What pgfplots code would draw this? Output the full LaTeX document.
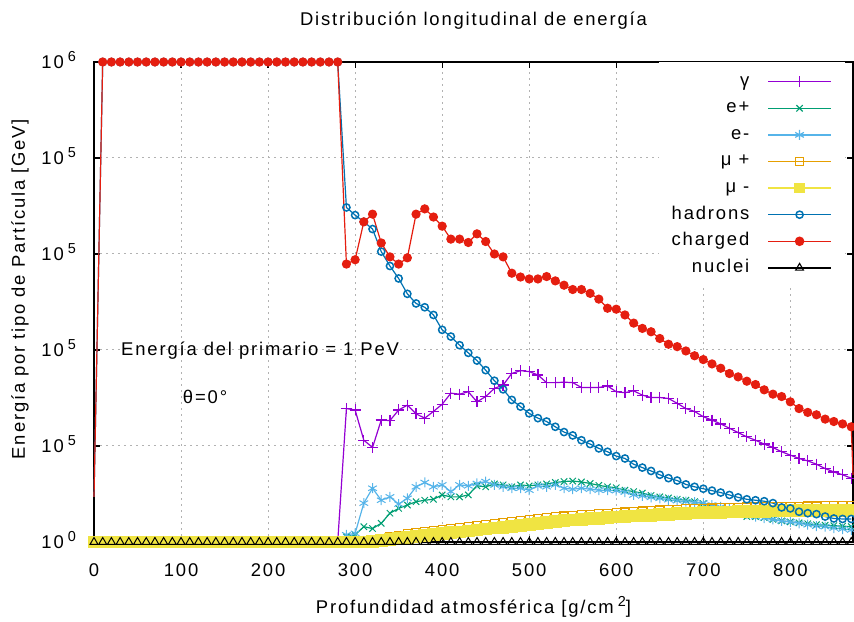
\documentclass[border=0pt]{standalone}
\usepackage{fontspec}
\setmainfont{Liberation Sans}[LetterSpace=10]
\usepackage{pgfplots}
\usepackage{pgfplotstable}
\pgfplotsset{compat=1.18}
\definecolor{cgam}{HTML}{9400D3}
\definecolor{cep}{HTML}{009E73}
\definecolor{cem}{HTML}{56B4E9}
\definecolor{cmup}{HTML}{E69F00}
\definecolor{cmum}{HTML}{F0E442}
\definecolor{chad}{HTML}{0072B2}
\definecolor{cchg}{HTML}{E51E10}
\newcommand{\fs}{\fontsize{18.5}{22}\selectfont}
\newcommand{\pw}[1]{10\hspace{4bp}\raisebox{7.5bp}{\fontsize{14.5}{16}\selectfont #1}}
% x gam ep em mup mum had chg nuc  (energies in units of 1000 GeV)
\pgfplotstableread{
x gam ep em mup mum had chg nuc
0 0 0 0 0 0 94 94 0
10 0 0 0 0 0 1000 1000 0
20 0 0 0 0 0 1000 1000 0
30 0 0 0 0 0 1000 1000 0
40 0 0 0 0 0 1000 1000 0
50 0 0 0 0 0 1000 1000 0
60 0 0 0 0 0 1000 1000 0
70 0 0 0 0 0 1000 1000 0
80 0 0 0 0 0 1000 1000 0
90 0 0 0 0 0 1000 1000 0
100 0 0 0 0 0 1000 1000 0
110 0 0 0 0 0 1000 1000 0
120 0 0 0 0 0 1000 1000 0
130 0 0 0 0 0 1000 1000 0
140 0 0 0 0 0 1000 1000 0
150 0 0 0 0 0 1000 1000 0
160 0 0 0 0 0 1000 1000 0
170 0 0 0 0 0 1000 1000 0
180 0 0 0 0 0 1000 1000 0
190 0 0 0 0 0 1000 1000 0
200 0 0 0 0 0 1000 1000 0
210 0 0 0 0 0 1000 1000 0
220 0 0 0 0 0 1000 1000 0
230 0 0 0 0 0 1000 1000 0
240 0 0 0 0 0 1000 1000 0
250 0 0 0 0 0 1000 1000 0
260 0 0 0 0 0 1000 1000 0
270 0 0 0 0 0 1000 1000 0
280 0 0 0 0 0 1000 1000 0
290 278 11 15 0 0 697 579 0
300 275 15 18 0 0 681 588 0
310 212 32 81 0 0 667 667 0
320 197 28 112 3 1 652 683 0
330 254 39 87 8 3 605 623 0
340 253 60 94 11 5 575 594 0
350 275 70 79 14 7 549 579 0
360 285 77 91 18 9 517 592 0
370 267 84 115 20.5 11 497 683 0
380 258 87 124 22.5 13 489 694 0
390 272 89 115 24.5 15 473 677 0
400 287 98 119 26.5 17 442 658 0
410 310 94 105 28.5 19 428 631 0
420 308 94 119 30.5 21 410 631 0
430 313 98 117 32.5 23 394 624 0
440 292 117 122 34.5 25 378 642 0
450 303 115 126 36.5 27 358 626 0
460 320 121 119 38.5 29 336 600 0
470 327 119 115 40.5 31 318 594 0
480 351 115 112 42.5 33 296 560 0
490 357 119 112 44.5 35 282 552 0
500 355 117 108 46.5 37 268 548 0
510 348 119 117 48.5 39 258 548 0
520 332 121 115 50.5 41 251 553 0
530 332 124 119 52.5 43 240 544 0
540 333 126 112 54 44.5 229 535 0
550 332 127 110 55.5 46 222 526 0
560 322 125 112 56.5 47 212 526 0
570 322 122 110 58 48.5 204 518 0
580 322 118 108 59 49.5 195 506 0
590 325 115 108 60 50.5 188 487 0
600 313 113 107 61.5 52 179 485 0
610 311 108 104 62.5 53 174 473 0
620 315 105 98 63.5 54 162 456 0
630 306 102 96 64.5 55 155 445 0
640 301 97 93 65.5 56 148 438 0
650 301 94 91 66.5 57 140 424 0
660 299 92 88 67.5 58 133 412 0
670 289 89 86 68.5 59 128 407 0
680 278 87 84 69.5 60 120 398 0
690 272 84 83 70 60.5 115 388 0
700 261 80 81 70.5 61 111 380 0
710 254 75 77 71 61.5 107 371 0
720 246 68 73 71.5 62 103 362 0
730 237 63 70 72 62.5 98 351 0
740 228 58 64 72.5 63 93 344 0
750 219 53 58 73 63.5 89 335 0
760 212 53 53 73.5 64 87 328 0
770 204 51 50 73.5 64 85 317 0
780 197 47 47 74 64.5 81 308 0
790 188 44 44 74 64.5 72 303 0
800 181 42 42 74.5 65 70 292 0
810 174 40 39 74.5 65 63 278 0
820 169 38 36 75 65.5 60 270 0
830 162 36 33 75 65.5 58 265 0
840 153 35 32 75.5 66 53 256 0
850 146 34 29 75.5 66 49 251 0
860 140 33 27 75.5 66 48 246 0
870 133 32 25 76 66.5 48 240 0
}\data
\begin{document}
\begin{tikzpicture}
\begin{axis}[
  scale only axis, width=759bp, height=480bp,
  xmin=0, xmax=872, ymin=0, ymax=1000,
  clip=false,
  axis line style={line width=1.2bp, black},
  tick align=inside, major tick length=6bp,
  tick style={line width=1.2bp, black},
  xtick={0,100,...,800}, xticklabels={0,100,200,300,400,500,600,700,800},
  ytick={0,200,400,600,800,1000},
  yticklabels={\pw{0},\pw{5},\pw{5},\pw{5},\pw{5},\pw{6}},
  scaled y ticks=false,
  xticklabel style={font=\fs, anchor=center, yshift=-28bp, inner sep=0pt},
  yticklabel style={font=\fs, anchor=base east, inner sep=0pt, xshift=-18bp, yshift=-6.7bp},
  grid=major,
  grid style={line width=1bp, gray!60, dash pattern=on 2bp off 4bp},
  title={Distribución longitudinal de energía},
  title style={font=\fs, at={(axis description cs:0.5,1)}, anchor=center, yshift=35bp},
  xlabel={Profundidad atmosférica [g/cm\hspace{4bp}\raisebox{7.5bp}{\fontsize{14.5}{16}\selectfont 2}]},
  xlabel style={font=\fs, at={(axis description cs:0.5,0)}, anchor=center, yshift=-65bp},
  ylabel={Energía por tipo de Partícula [GeV]},
  ylabel style={font=\fs, at={(axis description cs:0,0.527)}, anchor=center, yshift=74bp},
  legend style={draw=none, fill=white, at={(0.9895,1)}, anchor=north east,
    inner xsep=13bp, inner ysep=11bp, row sep=9.6bp, column sep=18bp,
    font=\fs, nodes={inner sep=0pt, text height=13bp, text depth=4bp}},
  legend cell align=right, legend plot pos=right,
  legend image code/.code={\draw[#1] (0bp,0bp) -- (63bp,0bp); \draw[#1, only marks] plot coordinates {(31.5bp,0bp)};},
]
\addlegendimage{draw=cgam, line width=1.5bp, mark=+, mark size=5.5bp, mark options={solid, draw=cgam, line width=1.3bp}}
\addlegendentry{γ}
\addlegendimage{draw=cep, line width=1.5bp, mark=x, mark size=4.5bp, mark options={solid, draw=cep, line width=1.2bp}}
\addlegendentry{e+}
\addlegendimage{draw=cem, line width=1.5bp, mark=asterisk, mark size=5bp, mark options={solid, draw=cem, line width=1.2bp}}
\addlegendentry{e-}
\addlegendimage{draw=cmup, line width=1.5bp, mark=square, mark size=4bp, mark options={solid, draw=cmup, line width=1.3bp}}
\addlegendentry{μ +}
\addlegendimage{draw=cmum, line width=1.5bp, mark=square*, mark size=4.5bp, mark options={solid, draw=cmum, fill=cmum}}
\addlegendentry{μ -}
\addlegendimage{draw=chad, line width=1.5bp, mark=o, mark size=3.6bp, mark options={solid, draw=chad, line width=1.5bp}}
\addlegendentry{hadrons}
\addlegendimage{draw=cchg, line width=1.5bp, mark=*, mark size=4bp, mark options={solid, draw=cchg, fill=cchg}}
\addlegendentry{charged}
\addlegendimage{draw=black, line width=1.5bp, mark=triangle, mark size=4.5bp, mark options={solid, draw=black, line width=1.1bp}}
\addlegendentry{nuclei}
\addplot[forget plot, color=cgam, line width=1.2bp, mark=+, mark size=5.5bp, mark options={solid, line width=1.2bp}] table[x=x, y=gam] {\data};
\addplot[forget plot, color=cep, line width=1.2bp, mark=x, mark size=4.5bp, mark options={solid, line width=1bp}] table[x=x, y=ep] {\data};
\addplot[forget plot, color=cem, line width=1.2bp, mark=asterisk, mark size=5bp, mark options={solid, line width=1bp}] table[x=x, y=em] {\data};
\addplot[forget plot, color=cmup, line width=1.2bp, mark=square, mark size=4bp, mark options={solid, line width=1.2bp}] table[x=x, y=mup] {\data};
\addplot[forget plot, color=cmum, line width=1.2bp, mark=square*, mark size=5.8bp, mark options={solid, fill=cmum, draw=cmum}] table[x=x, y=mum] {\data};
\addplot[forget plot, color=chad, line width=1.2bp, mark=o, mark size=3.6bp, mark options={solid, line width=1.5bp}, mark indices={2,...,88}] table[x=x, y=had] {\data};
\addplot[forget plot, color=cchg, line width=1.2bp, mark=*, mark size=4bp, mark options={solid, fill=cchg, draw=cchg}, mark indices={2,...,88}] table[x=x, y=chg] {\data};
\addplot[forget plot, color=cchg, line width=1.2bp] coordinates {(870,240) (872,140)};
\addplot[forget plot, color=black, line width=1.2bp, mark=triangle, mark size=4.5bp, mark options={solid, line width=1bp}] table[x=x, y=nuc] {\data};
\node[font=\fs] at (axis cs:190.8,399) {Energía del primario = 1 PeV};
\node[font=\fs] at (axis cs:127.6,302.7) {θ=0°};
\end{axis}
\pgfresetboundingbox
\path[use as bounding box] ([xshift=-94bp,yshift=-80bp]current axis.south west) rectangle ([xshift=1bp,yshift=62bp]current axis.north east);
\end{tikzpicture}
\end{document}
